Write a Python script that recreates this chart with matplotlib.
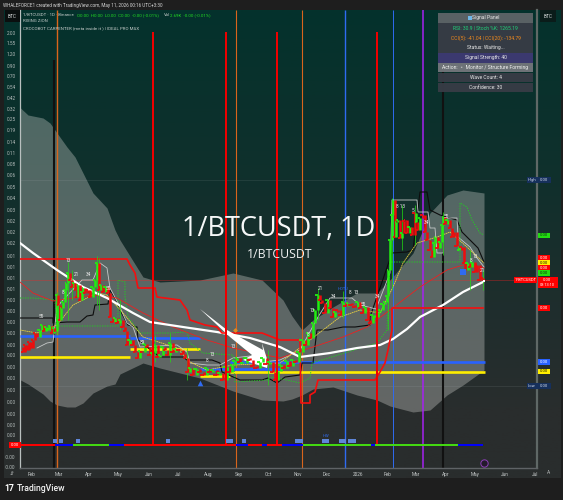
import numpy as np
import matplotlib
matplotlib.use("Agg")
import matplotlib.pyplot as plt
from matplotlib.colors import LinearSegmentedColormap

FONT = "Roboto"
plt.rcParams["font.family"] = [FONT, "DejaVu Sans"]

# ---- axis text -------------------------------------------------------------
month_x = [32, 59, 89, 118.5, 149, 178.5, 208, 239, 268, 298, 327, 358, 388, 416, 446, 475, 505, 535]
month_labels = ["Feb", "Mar", "Apr", "May", "Jun", "Jul", "Aug", "Sep", "Oct", "Nov", "Dec", "2026",
                "Feb", "Mar", "Apr", "May", "Jun", "Jul"]
price_labels = ["2.00", "1.55", "1.20", "0.90", "0.70", "0.54", "0.42", "0.32", "0.25", "0.19", "0.14", "0.11",
                "0.08", "0.06", "0.05", "0.04", "0.03", "0.02", "0.02", "0.02", "0.01", "0.01", "0.01", "0.01",
                "0.00", "0.00", "0.00", "0.00", "0.00", "0.00", "0.00", "0.00", "0.00", "0.00", "0.00", "0.00",
                "0.00", "-0.00", "-0.00"]
price_y = [33, 43, 54, 66, 76, 87, 98, 109, 119, 130.5, 142, 153, 164.5, 175, 187, 198, 210, 221, 232, 243,
           256, 267, 278, 289, 300, 311, 322, 333, 345, 355, 367, 378, 390, 402, 414, 425, 435, 457, 467]

# ---- Bollinger style envelope ---------------------------------------------
upper_x = [20.5, 28, 43, 50, 57, 67, 75, 83, 93, 107, 115, 120, 143, 160, 200, 233, 262, 283, 292, 302, 313,
           333, 357, 377, 390, 413, 430, 447, 463, 484]
upper_y = [108, 115, 118, 123, 133, 147, 157, 173, 193, 208, 230, 240, 277, 282, 280, 273, 280, 300, 316, 330,
           320, 307, 293, 293, 280, 253, 213, 195, 190, 193]
lower_y = [380, 384, 394, 401, 405, 407, 407, 403, 393, 386, 384, 374, 363, 368, 378, 391, 400, 401, 399, 395,
           389, 387, 395, 400, 406, 412, 410, 395, 385, 370]
# ---- moving averages and structure lines ----------------------------------
white_x = [20, 33, 57, 83, 107, 133, 150, 183, 217, 250, 280, 300, 330, 357, 380, 393, 407, 420, 443, 463, 483]
white_y = [243, 253, 270, 287, 298, 313, 322, 327, 332, 338, 347, 357, 353, 348, 345, 339, 329, 317, 305, 292, 282]
stepr_x = [20, 127, 130, 135, 138, 155, 157, 180, 187, 190, 205, 217, 222, 262, 280, 300, 301, 310, 310, 315, 318,
           375, 380, 385, 388, 392, 392, 483]
stepr_y = [259, 259, 265, 273, 288, 288, 297, 300, 310, 320, 325, 327, 333, 333, 340, 340, 403, 403, 395, 392, 380,
           380, 372, 363, 350, 330, 308, 308]
black_x = [20, 53, 53, 67, 80, 87, 93, 95, 108, 110, 115, 120, 128, 137, 138, 160, 183, 187, 212, 220, 222, 240, 262,
           268, 277, 285, 300, 302, 313, 317, 328, 343, 355, 370, 370, 392, 407, 413, 420, 427, 430, 440, 457, 462,
           470, 478, 484]
black_y = [318, 318, 323, 322, 322, 316, 315, 305, 304, 290, 298, 310, 325, 327, 340, 357, 357, 360, 360, 363, 372,
           380, 380, 378, 383, 377, 375, 363, 363, 330, 330, 327, 327, 325, 317, 253, 252, 250, 192, 192, 210, 215,
           220, 232, 240, 248, 262]
silver_x = [37, 47, 53, 57, 63, 82, 93, 100, 107, 110, 118, 127, 133, 140, 177, 187, 190, 207, 220, 233, 250, 262, 280,
            300, 318, 330, 352, 360, 368, 376, 390, 392, 417, 418, 428, 430, 435, 437, 443, 443, 457, 458, 470, 477, 484]
silver_y = [348, 343, 342, 307, 300, 280, 280, 263, 268, 288, 303, 323, 327, 347, 345, 352, 363, 365, 365, 358, 356,
            362, 360, 350, 317, 298, 298, 305, 307, 309, 273, 200, 200, 212, 212, 228, 228, 253, 253, 218, 218, 237,
            247, 258, 267]
dotted_x = [20, 33, 55, 57, 97, 118, 118, 125, 125, 128, 140, 170, 187, 190, 203, 233, 235, 267, 273, 300, 310, 312,
            377, 387, 390, 460, 460, 467, 472, 480, 484]
dotted_y = [298, 298, 300, 326, 326, 326, 280, 282, 297, 317, 333, 333, 332, 343, 353, 355, 382, 380, 377, 383, 378,
            363, 343, 330, 262, 262, 203, 207, 220, 233, 235]
yellow_x = [20, 37, 57, 73, 97, 107, 123, 143, 177, 190, 207, 233, 280, 323, 340, 360, 380, 393, 403, 417, 437, 450, 467, 484]
yellow_y = [330, 333, 325, 305, 293, 295, 313, 337, 348, 362, 370, 365, 363, 330, 317, 310, 313, 287, 263, 243, 237, 232, 247, 263]
thin_red_x = [20, 33, 53, 93, 117, 143, 173, 207, 233, 280, 343, 367, 390, 420, 447, 463, 484]
thin_red_y = [282, 293, 301, 295, 298, 313, 327, 340, 348, 358, 337, 327, 310, 287, 270, 265, 268]

# ---- price bars: position, close, 1 = green ---------------------------------
bar_x = [21, 23, 25, 27, 29, 31, 33, 35, 37, 40, 42, 44, 46, 48, 50, 52, 54, 55, 57, 58, 60, 61, 63, 65, 66, 68, 70, 72,
         74, 75, 77, 78, 80, 82, 83, 85, 88, 90, 93, 95, 97, 99, 101, 103, 106, 108, 110, 113, 115, 118, 120, 123, 125,
         127, 130, 133, 135, 138, 140, 142, 145, 147, 150, 152, 155, 158, 160, 163, 165, 168, 170, 173, 176, 180, 183,
         185, 188, 190, 193, 197, 200, 204, 207, 210, 213, 217, 220, 223, 227, 230, 232, 235, 237, 240, 243, 247, 250,
         253, 257, 260, 263, 267, 270, 273, 275, 278, 281, 284, 287, 290, 293, 296, 299, 303, 306, 308, 311, 313, 315,
         318, 320, 322, 325, 328, 330, 333, 335, 338, 341, 343, 346, 348, 352, 355, 358, 360, 363, 365, 368, 370, 373,
         375, 378, 380, 383, 385, 387, 388, 390, 392, 393, 395, 396, 398, 400, 402, 404, 405, 407, 410, 412, 415, 416,
         418, 420, 423, 425, 427, 430, 432, 434, 435, 438, 440, 442, 443, 445, 448, 450, 452, 454, 457, 459, 462, 464,
         465, 468, 470, 472, 475, 477, 480, 483]
bar_y = [347, 352, 345, 350, 342, 348, 340, 333, 337, 330, 325, 331, 327, 330, 326, 333, 328, 331, 295, 305, 320, 308, 302,
         290, 283, 273, 280, 287, 283, 290, 297, 285, 300, 292, 288, 293, 290, 297, 287, 280, 263, 290, 285, 292, 287, 293,
         317, 322, 318, 323, 320, 327, 331, 345, 340, 345, 352, 358, 351, 352, 344, 347, 355, 353, 345, 357, 355, 347, 350,
         355, 343, 352, 349, 350, 354, 358, 372, 368, 375, 369, 372, 375, 368, 372, 370, 375, 373, 380, 367, 372, 365, 361,
         358, 362, 363, 358, 360, 366, 368, 362, 358, 364, 362, 372, 380, 371, 365, 368, 361, 366, 360, 362, 352, 340, 345,
         333, 338, 323, 310, 295, 300, 303, 313, 300, 308, 317, 312, 310, 315, 302, 306, 303, 305, 307, 302, 308, 313, 307,
         320, 323, 315, 317, 312, 310, 304, 302, 296, 270, 240, 215, 200, 237, 222, 220, 238, 233, 221, 220, 233, 227, 235,
         213, 222, 230, 218, 215, 232, 240, 250, 257, 243, 237, 248, 242, 225, 217, 224, 220, 228, 237, 232, 246, 250, 247,
         263, 270, 263, 267, 262, 272, 265, 280, 278]
bar_up = [0, 0, 0, 0, 0, 0, 0, 0, 0, 1, 1, 0, 1, 1, 1, 0, 1, 0, 1, 0, 0, 1, 1, 1, 1, 1, 0, 0, 1, 0, 0, 1, 0, 1, 1, 0, 0, 0, 1,
          1, 1, 0, 1, 0, 1, 0, 0, 0, 1, 0, 1, 0, 0, 0, 1, 0, 0, 0, 1, 0, 1, 0, 0, 1, 1, 0, 1, 1, 0, 0, 1, 0, 1, 0, 0, 0, 0, 1,
          0, 1, 0, 0, 1, 0, 1, 0, 1, 0, 1, 0, 1, 1, 1, 0, 1, 1, 0, 0, 0, 1, 1, 0, 1, 0, 0, 1, 1, 0, 1, 0, 1, 0, 1, 1, 0, 1, 0,
          1, 1, 1, 0, 0, 0, 1, 0, 0, 1, 0, 0, 1, 0, 1, 0, 0, 1, 0, 0, 1, 0, 0, 1, 1, 1, 1, 1, 1, 1, 1, 1, 1, 1, 0, 1, 1, 0, 1,
          0, 0, 0, 1, 0, 0, 1, 0, 1, 0, 0, 0, 0, 0, 1, 1, 0, 1, 1, 1, 0, 1, 0, 0, 0, 0, 1, 0, 0, 0, 1, 0, 1, 0, 0, 0, 0]
wick_x = [57, 68, 72, 97, 99, 120, 155, 170, 187, 268, 318, 343, 388, 392, 402, 415, 443, 470, 483]
wick_top = [292, 262, 270, 256, 258, 300, 335, 333, 348, 350, 288, 291, 280, 198, 205, 205, 212, 250, 270]
wick_bot = [335, 320, 300, 305, 310, 330, 362, 362, 380, 385, 320, 318, 330, 290, 250, 245, 255, 290, 290]

# ---- horizontal levels -----------------------------------------------------
blue_x0, blue_x1, blue_y = [20, 130, 200, 230], [130, 200, 280, 485], [336, 338, 369, 362]
yellow_lv_x0, yellow_lv_x1, yellow_lv_y = [20, 130, 200, 230], [130, 200, 230, 485], [357, 349, 376, 371.5]

# ---- vertical events -------------------------------------------------------
red_v_x = [153, 226, 276.5, 376.5]
orange_v_x = [57, 236, 301.5]
blue_v_x, blue_v_w = [344.5, 393], [1.0, 0.7]
purple_v_x = [422.5]
black_v_x, black_v_top = [54, 443], [60, 60]

# ---- bottom condition strip ------------------------------------------------
strip_start = [20, 55, 73, 109, 124, 236, 248, 262, 267, 282, 303, 371, 375, 458]
strip_end = [55, 73, 109, 124, 236, 248, 262, 267, 282, 303, 371, 375, 458, 483]
strip_colors = ["#ff0000", "#0000ff", "#44dd11", "#0000ff", "#ff0000", "#0000ff", "#ff0000", "#0000ff", "#ff0000",
                "#0000ff", "#44dd11", "#0000ff", "#44dd11", "#0000ff"]
flag_x = [55, 61, 78, 168, 228, 231, 244, 297, 301, 324, 327, 341, 344, 350, 354]

# ---- wave labels -----------------------------------------------------------
wave_x = [41, 68, 76, 88, 108, 63, 142, 212, 207, 233, 320, 312, 308, 333, 350, 356, 363, 377, 400, 413, 426, 446, 471, 475, 482]
wave_y = [317, 260, 274, 275, 288, 292, 343, 354, 360, 347, 288, 310, 335, 296, 293, 293, 304, 296, 207, 210, 223, 216, 260, 256, 270]
wave_txt = ["55", "13", "21", "34", "55", "8", "89", "13", "8", "13", "21", "13", "8", "34", "8", "13", "55", "34",
            "8 13", "5", "34", "55", "8", "13", "21"]

# ---- arrow annotation ------------------------------------------------------
arrow_x = [200, 227, 263, 262, 268, 267, 243, 252, 230]
arrow_y = [309, 330, 350, 343, 362, 368, 360, 355, 337]

# ---- right price tags ------------------------------------------------------
tag_y = [235.5, 258, 262.5, 268, 273, 308, 362, 371.5]
tag_bg = ["#22dd11", "#ff0000", "#ffee00", "#ff0000", "#22dd11", "#ff0000", "#2962ff", "#ffee00"]
tag_fg = ["#0b3b10", "#ffffff", "#222200", "#ffffff", "#0b3b10", "#ffffff", "#ffffff", "#222200"]

# ---- signal panel ----------------------------------------------------------
panel_rows = ["Signal Panel", "RSI: 30.9 | Stoch %K: 1265.19", "CCI(5): -41.04 | CCI(20): -134.79", "Status: Waiting...",
              "Signal Strength: 40", "Action:  ◦  Monitor / Structure Forming", "Wave Count: 4", "Confidence: 30"]
panel_y = [18, 28, 38, 48, 58, 67.5, 77.5, 87.5]
panel_bg = ["#5d6367", "#373c45", "#373c45", "#373c45", "#3d3a72", "#71757a", "#373c45", "#373c45"]
panel_fg = ["#e8e8e8", "#1fd27a", "#f08a1d", "#e8e8e8", "#e8e8e8", "#f2f2f2", "#e8e8e8", "#e8e8e8"]

# ============================================================================
fig = plt.figure(figsize=(5.63, 5.0), dpi=100, facecolor="#1e1e1e")

bg = fig.add_axes([0, 0, 1, 1], zorder=0)
bg.axis("off")
stops = [(0.0, (4, 50, 44)), (0.36, (16, 48, 44)), (0.62, (30, 46, 45)), (0.85, (41, 45, 45)), (1.0, (42, 45, 45))]
cmap = LinearSegmentedColormap.from_list("pane", [(p, tuple(v / 255 for v in c)) for p, c in stops])
bg.imshow(np.linspace(0, 1, 256)[:, None], cmap=cmap, extent=(3.5, 560, 478, 10), aspect="auto", zorder=0)
bg.set_xlim(0, 563)
bg.set_ylim(500, 0)

ax = fig.add_axes([20 / 563, 1 - 468 / 500, (537 - 20) / 563, (468 - 10) / 500], zorder=1)
ax.patch.set_alpha(0)
ax.set_xlim(20, 537)
ax.set_ylim(468, 10)
for s in ax.spines.values():
    s.set_visible(False)
ax.spines["left"].set_visible(True)
ax.spines["left"].set_color("#b9c0bf")
ax.spines["left"].set_linewidth(0.9)
ax.spines["right"].set_visible(True)
ax.spines["right"].set_color("#5f6866")
ax.spines["right"].set_linewidth(1.6)
ax.spines["bottom"].set_visible(True)
ax.spines["bottom"].set_color("#5f6366")
ax.spines["bottom"].set_linewidth(1.0)
ax.set_xticks(month_x, month_labels)
ax.set_yticks(price_y, price_labels)
ax.tick_params(axis="x", length=0, pad=3, labelsize=3.4, colors="#c3c7c7")
ax.tick_params(axis="y", length=0, pad=3, labelsize=3.4, colors="#b5bcbb")

# envelope
ax.fill_between(upper_x, upper_y, lower_y, color="#dcdcd8", alpha=0.33, lw=0, zorder=1)
# reference lines
ax.axhline(280, color="#ff2020", lw=0.4, alpha=0.6, zorder=2)
ax.axhline(180, color="#c0c8c8", lw=0.4, alpha=0.18, zorder=2)
ax.axhline(385.5, color="#c0c8c8", lw=0.4, alpha=0.18, zorder=2)

# verticals
ax.vlines(orange_v_x, 10, 468, color="#d9651c", lw=[1.0, 0.8, 0.8], zorder=2.2)
ax.vlines(black_v_x, black_v_top, 468, color="#111111", lw=1.5, zorder=2.2)
ax.vlines(blue_v_x, 10, 468, color="#2f6bf2", lw=blue_v_w, zorder=2.2)
ax.vlines(purple_v_x, 10, 468, color="#a622f0", lw=1.1, zorder=2.2)

# levels
ax.hlines(blue_y, blue_x0, blue_x1, color="#2962ff", lw=1.9, zorder=3)
ax.hlines(yellow_lv_y, yellow_lv_x0, yellow_lv_x1, color="#ffee00", lw=1.9, zorder=3)

# structure lines
ax.plot(black_x, black_y, color="#0d0d0d", lw=0.8, zorder=3.2)
ax.plot(silver_x, silver_y, color="#c6c9c9", lw=0.6, zorder=3.2)
ax.plot(dotted_x, dotted_y, color="#22cc22", lw=0.7, ls=(0, (1.3, 1.3)), zorder=3.2)
ax.plot(thin_red_x, thin_red_y, color="#ee2020", lw=0.6, zorder=3.3)
ax.plot(yellow_x, yellow_y, color="#e8d040", lw=0.6, ls=(0, (2, 0.6)), zorder=3.3)
ax.plot(white_x, white_y, color="#ffffff", lw=1.6, zorder=3.4, solid_capstyle="round")
ax.plot(stepr_x, stepr_y, color="#f50f0f", lw=1.2, zorder=3.5)

# arrow
ax.fill(arrow_x, arrow_y, color="#ffffff", lw=0, zorder=3.6)

# price bars
bx, by, up = np.array(bar_x), np.array(bar_y), np.array(bar_up)
bar_cols = np.where(up == 1, "#22ee11", "#ee0d0d")
ax.vlines(bx[1:], by[:-1], by[1:], colors=bar_cols[1:], lw=1.8, zorder=4)
ax.hlines(by[1:], bx[:-1], bx[1:], colors=bar_cols[1:], lw=1.3, zorder=4)
ax.vlines(wick_x, wick_top, wick_bot, colors="#22dd11", lw=0.5, zorder=3.9)

# event verticals above the bars
ax.vlines(red_v_x, 32, 445, color="#ee0000", lw=1.45, zorder=4.5)

# strip
ax.hlines([444.7] * len(strip_start), strip_start, strip_end, colors=strip_colors, lw=1.4, zorder=5)
ax.scatter(flag_x, [441] * len(flag_x), marker="s", s=5, color="#5f86d8", lw=0, zorder=5)

# markers
ax.scatter([200], [383], marker="^", s=16, color="#2f6bf2", lw=0, zorder=5)
ax.scatter([463], [272], marker="s", s=14, color="#2f6bf2", lw=0, zorder=5)
ax.scatter([235], [330], marker="D", s=6, color="#e08a20", lw=0, zorder=5)
ax.scatter([484], [281], marker="s", s=3, color="#ffffff", lw=0, zorder=5)
ax.scatter([484], [463], marker="o", s=28, facecolor="#241a2c", edgecolor="#8d3fb8", lw=0.7, zorder=5)

for x, y, t in zip(wave_x, wave_y, wave_txt):
    ax.text(x, y, t, color="#eeeeee", fontsize=3.4, ha="center", va="center", zorder=6)
ax.text(343, 289, "HOTU", color="#2f6bf2", fontsize=3.0, ha="center", va="center", zorder=6)
ax.text(326, 436, "HW", color="#2f6bf2", fontsize=3.0, ha="center", va="center", zorder=6)

# watermark title
ax.text(279, 229, "1/BTCUSDT, 1D", color="#f6f8f8", fontsize=19.5, ha="center", va="center", family="Open Sans", zorder=7)
ax.text(279.5, 254, "1/BTCUSDT", color="#f0f2f2", fontsize=8.8, ha="center", va="center", family="Open Sans", zorder=7)

# legend text
ax.text(23, 15, "1/BTCUSDT · 1D · Binance", color="#c9cfcd", fontsize=3.2, va="center", zorder=7)
ax.text(77, 15, "O0.00  H0.00  L0.00  C0.00  -0.00 (-0.01%)", color="#22dd22", fontsize=3.2, va="center", zorder=7)
ax.text(164, 15, "Vol", color="#c9cfcd", fontsize=3.2, va="center", zorder=7)
ax.text(170, 15, "2.69K  -0.00 (-0.01%)", color="#22dd22", fontsize=3.2, va="center", zorder=7)
ax.text(23, 21, "RISING ZION", color="#c9cfcd", fontsize=3.2, va="center", zorder=7)
ax.text(23, 28, "CROCOBOT CARPENTER (meta inside it ) | IDEAL PRO MAX", color="#c9cfcd", fontsize=3.2, va="center", zorder=7)

# signal panel
ax.barh(panel_y, [95] * len(panel_y), left=438, height=9.4, color=panel_bg, lw=0, zorder=8, alpha=0.97)
for y, t, c in zip(panel_y, panel_rows, panel_fg):
    ax.text(485.5, y, t, color=c, fontsize=3.6, ha="center", va="center", zorder=9)
ax.scatter([470], [18], marker="s", s=5, color="#6fb7e8", lw=0, zorder=9)

# right price tags (in the scale strip)
ax.barh(tag_y, [12] * len(tag_y), left=538, height=5.6, color=tag_bg, lw=0, zorder=8, clip_on=False)
for y, c in zip(tag_y, tag_fg):
    ax.text(544, y, "0.00", color=c, fontsize=3.1, ha="center", va="center", zorder=9, clip_on=False)
ax.barh([280], [23], left=514, height=6.5, color="#ff0000", lw=0, zorder=8)
ax.barh([282.5], [20], left=537.5, height=11, color="#ff0000", lw=0, zorder=8, clip_on=False)
ax.text(525.5, 280, "1/BTCUSDT", color="#ffffff", fontsize=3.0, ha="center", va="center", zorder=9)
ax.text(547, 280, "0.00", color="#ffffff", fontsize=3.1, ha="center", va="center", zorder=9, clip_on=False)
ax.text(547, 285.5, "03:13:10", color="#ffffff", fontsize=2.8, ha="center", va="center", zorder=9, clip_on=False)
ax.barh([180, 386], [24, 24], left=527, height=5.5, color="#16305c", lw=0, zorder=8, clip_on=False)
ax.text(532, 180, "High", color="#cfd8e8", fontsize=3.0, ha="center", va="center", zorder=9, clip_on=False)
ax.text(532, 386, "Low", color="#cfd8e8", fontsize=3.0, ha="center", va="center", zorder=9, clip_on=False)
ax.text(544, 180, "0.00", color="#cfd8e8", fontsize=3.1, ha="center", va="center", zorder=9, clip_on=False)
ax.text(544, 386, "0.00", color="#cfd8e8", fontsize=3.1, ha="center", va="center", zorder=9, clip_on=False)
ax.barh([445], [12], left=8.5, height=6, color="#ff0000", lw=0, zorder=8, clip_on=False)
ax.text(14.5, 445, "0.00", color="#ffffff", fontsize=3.1, ha="center", va="center", zorder=9, clip_on=False)

# symbol boxes
bg_text = dict(fontsize=3.4, color="#d8dcdc", ha="center", va="center", zorder=9, clip_on=False)
ax.text(12.5, 16, "BTC", bbox=dict(fc="#0a0f0f", ec="none", pad=2.2), **bg_text)
ax.text(548, 16, "BTC", bbox=dict(fc="#0a1c1a", ec="none", pad=2.2), **bg_text)
ax.text(12, 473, "⇵", color="#b0b4b4", fontsize=3.4, ha="center", va="center", family="DejaVu Sans", clip_on=False)
ax.text(548, 473, "A", color="#b0b4b4", fontsize=3.4, ha="center", va="center", clip_on=False)

# top and bottom bars
fig.text(3 / 563, 1 - 5.3 / 500, "WHALEFORCE1 created with TradingView.com, May 11, 2026 00:16 UTC+3:30",
         color="#d5d5d5", fontsize=3.3, va="center", zorder=10)
fig.text(4 / 563, 1 - 488.5 / 500, "17", color="#ffffff", fontsize=6.2, weight="bold", va="center", zorder=10)
fig.text(17 / 563, 1 - 488.5 / 500, "TradingView", color="#f4f4f4", fontsize=6.2, weight="medium", va="center", zorder=10)

fig.savefig("out.png", dpi=100, facecolor=fig.get_facecolor())
